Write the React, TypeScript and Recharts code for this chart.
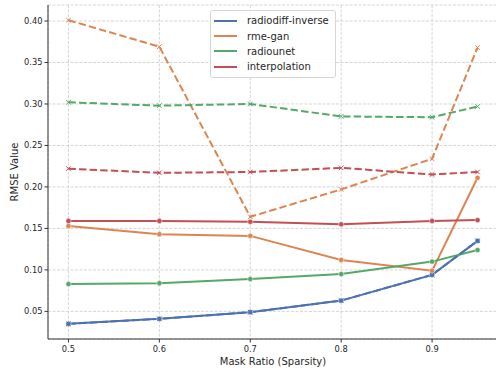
import React from "react";
import {
  CartesianGrid,
  Label,
  Line,
  LineChart,
  XAxis,
  YAxis,
} from "recharts";

const ratios = [0.5, 0.6, 0.7, 0.8, 0.9, 0.95];
const xTicks = [0.5, 0.6, 0.7, 0.8, 0.9];
const yTicks = [0.05, 0.1, 0.15, 0.2, 0.25, 0.3, 0.35, 0.4];

const diffSolid = [0.035, 0.041, 0.049, 0.063, 0.094, 0.135];
const diffDashed = [0.035, 0.041, 0.049, 0.063, 0.094, 0.135];
const ganSolid = [0.153, 0.143, 0.141, 0.112, 0.099, 0.211];
const ganDashed = [0.401, 0.369, 0.164, 0.197, 0.234, 0.368];
const unetSolid = [0.083, 0.084, 0.089, 0.095, 0.11, 0.124];
const unetDashed = [0.302, 0.298, 0.3, 0.285, 0.284, 0.297];
const interpSolid = [0.159, 0.159, 0.158, 0.155, 0.159, 0.16];
const interpDashed = [0.222, 0.217, 0.218, 0.223, 0.215, 0.218];

const series = [
  { name: "radiodiff-inverse", color: "#4c72b0", solid: diffSolid, dashed: diffDashed },
  { name: "rme-gan", color: "#dd8452", solid: ganSolid, dashed: ganDashed },
  { name: "radiounet", color: "#55a868", solid: unetSolid, dashed: unetDashed },
  { name: "interpolation", color: "#c44e52", solid: interpSolid, dashed: interpDashed },
];

const data = ratios.map((r, i) => {
  const row: any = { ratio: r };
  series.forEach((s, k) => {
    row[`s${k}`] = s.solid[i];
    row[`d${k}`] = s.dashed[i];
  });
  return row;
});

const FONT = "'DejaVu Sans', sans-serif";
const TEXT = "#262626";

const xDot = (color: string) => (props: any) => {
  const { cx, cy, index } = props;
  if (cx == null || cy == null) return <g key={index} />;
  const h = 2.3;
  return (
    <path
      key={index}
      d={`M${cx - h},${cy - h}L${cx + h},${cy + h}M${cx - h},${cy + h}L${cx + h},${cy - h}`}
      stroke={color}
      strokeWidth={1}
      fill="none"
    />
  );
};

// legend sits on top of the plot as a plain div
const LegendBox = () => (
  <div
    style={{
      position: "absolute",
      left: 210,
      top: 10,
      background: "rgba(255,255,255,0.85)",
      border: "1px solid #d6d6d6",
      borderRadius: 3,
      padding: "2px 6px 2px 3px",
      fontFamily: FONT,
      fontSize: 10,
      color: TEXT,
      whiteSpace: "nowrap",
    }}
  >
    {series.map((s) => (
      <div key={s.name} style={{ display: "flex", alignItems: "center", height: 15.4 }}>
        <div style={{ width: 23, height: 2, background: s.color, marginRight: 10 }} />
        <span>{s.name}</span>
      </div>
    ))}
  </div>
);

export default function App() {
  return (
    <div style={{ position: "absolute", left: 0, top: 0, width: 496, height: 373, overflow: "hidden", background: "#fff" }}>
      <LineChart width={500} height={373} data={data} margin={{ top: 5, right: 2, left: 0, bottom: 0 }}>
        <CartesianGrid stroke="#cccccc" strokeDasharray="3 1.5" strokeWidth={0.8} />
        <XAxis
          dataKey="ratio"
          type="number"
          domain={[0.4775, 0.9725]}
          ticks={xTicks}
          tickFormatter={(v) => String(v)}
          height={34}
          stroke="#333"
          tickSize={3.5}
          tickMargin={4}
          tick={{ fontSize: 8.3, fill: TEXT, fontFamily: FONT }}
          allowDataOverflow
        >
          <Label
            value="Mask Ratio (Sparsity)"
            position="insideBottom"
            offset={8}
            style={{ fontSize: 10, fill: TEXT, fontFamily: FONT }}
          />
        </XAxis>
        <XAxis
          xAxisId="top"
          orientation="top"
          dataKey="ratio"
          type="number"
          domain={[0.4775, 0.9725]}
          tick={false}
          tickLine={false}
          height={0}
          stroke="#333"
        />
        <YAxis
          type="number"
          domain={[0.0167, 0.4193]}
          ticks={yTicks}
          tickFormatter={(v) => v.toFixed(2)}
          width={48}
          stroke="#333"
          tickSize={3.5}
          tickMargin={2}
          tick={{ fontSize: 8.3, fill: TEXT, fontFamily: FONT }}
          allowDataOverflow
        >
          <Label
            value="RMSE Value"
            angle={-90}
            position="insideLeft"
            offset={14}
            style={{ fontSize: 10, fill: TEXT, fontFamily: FONT, textAnchor: "middle" }}
          />
        </YAxis>
        {series.map((s, k) => (
          <Line
            key={`s${k}`}
            dataKey={`s${k}`}
            name={s.name}
            stroke={s.color}
            strokeWidth={2}
            dot={{ r: 2.6, fill: s.color, stroke: "#fff", strokeWidth: 0.5 }}
            activeDot={false}
            isAnimationActive={false}
          />
        ))}
        {series.map((s, k) => (
          <Line
            key={`d${k}`}
            dataKey={`d${k}`}
            name={`${s.name} dashed`}
            stroke={s.color}
            strokeWidth={2}
            strokeDasharray="7.4 3.2"
            dot={xDot(s.color)}
            activeDot={false}
            isAnimationActive={false}
          />
        ))}
      </LineChart>
      <LegendBox />
    </div>
  );
}
